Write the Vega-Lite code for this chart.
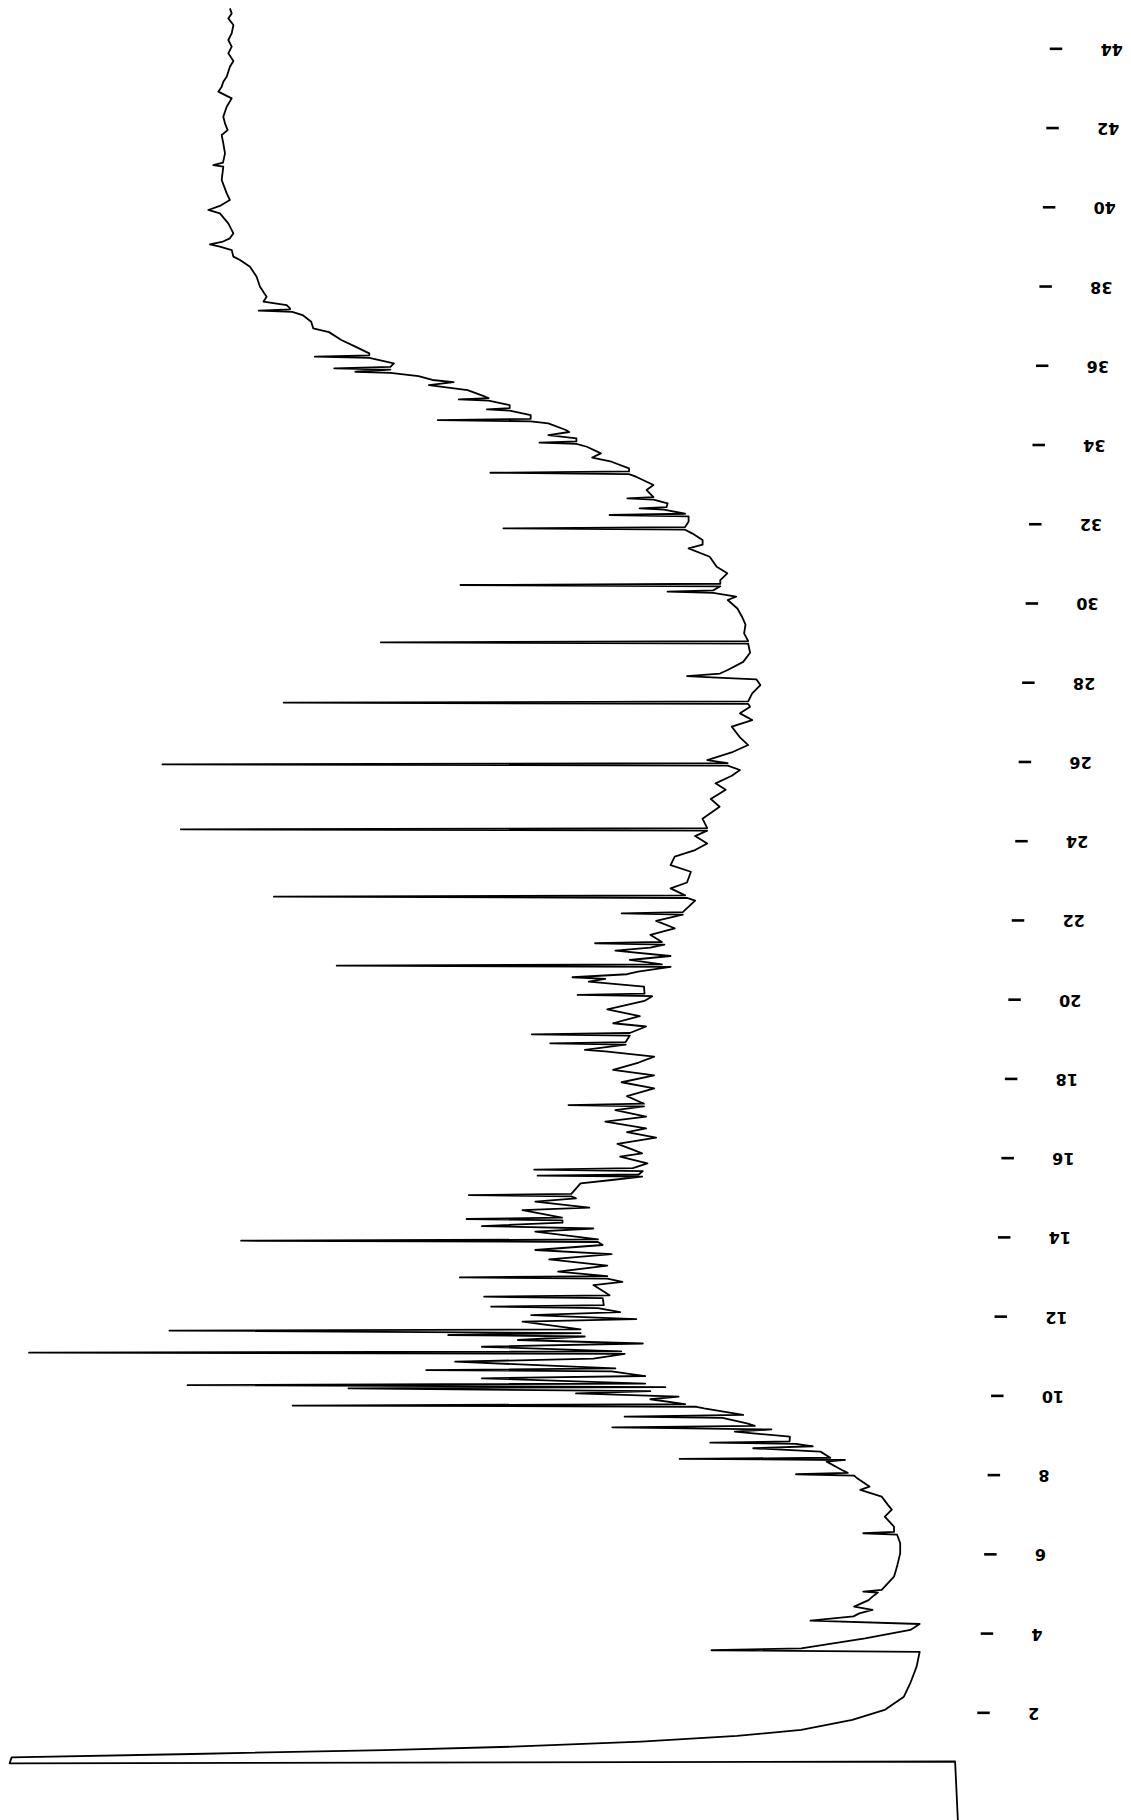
{
  "$schema": "https://vega.github.io/schema/vega-lite/v6.json",
  "width": 1131,
  "height": 1820,
  "padding": 0,
  "autosize": {"type": "none"},
  "background": "white",
  "config": {"view": {"stroke": null}},
  "datasets": {
    "trace": [
      {"t": -0.783, "v": 4.2}, {"t": 0.771, "v": 4.49}, {"t": 0.726, "v": 99.04}, {"t": 0.876, "v": 98.84},
      {"t": 0.961, "v": 80.77}, {"t": 1.061, "v": 61.56}, {"t": 1.146, "v": 48.72}, {"t": 1.272, "v": 35.9},
      {"t": 1.416, "v": 26.29}, {"t": 1.568, "v": 19.88}, {"t": 1.82, "v": 14.77}, {"t": 2.072, "v": 11.54},
      {"t": 2.407, "v": 9.61}, {"t": 2.747, "v": 8.97}, {"t": 3.166, "v": 8.34}, {"t": 3.541, "v": 8.03},
      {"t": 3.579, "v": 28.85}, {"t": 3.629, "v": 19.88}, {"t": 3.881, "v": 13.49}, {"t": 4.092, "v": 8.96},
      {"t": 4.242, "v": 8.03}, {"t": 4.327, "v": 18.95}, {"t": 4.435, "v": 14.65}, {"t": 4.511, "v": 14.07},
      {"t": 4.596, "v": 12.75}, {"t": 4.681, "v": 14.58}, {"t": 4.845, "v": 13.14}, {"t": 4.933, "v": 12.75},
      {"t": 5.035, "v": 12.21}, {"t": 5.058, "v": 13.67}, {"t": 5.102, "v": 11.83}, {"t": 5.436, "v": 10.6},
      {"t": 5.691, "v": 10.3}, {"t": 6.025, "v": 9.98}, {"t": 6.28, "v": 9.98}, {"t": 6.5, "v": 10.3},
      {"t": 6.532, "v": 13.67}, {"t": 6.565, "v": 10.59}, {"t": 6.699, "v": 10.6}, {"t": 6.951, "v": 11.52},
      {"t": 7.13, "v": 10.82}, {"t": 7.248, "v": 11.21}, {"t": 7.456, "v": 11.83}, {"t": 7.626, "v": 13.97},
      {"t": 7.711, "v": 13.05}, {"t": 7.919, "v": 14.28}, {"t": 7.986, "v": 14.58}, {"t": 8.022, "v": 20.4},
      {"t": 8.057, "v": 15.23}, {"t": 8.13, "v": 15.81}, {"t": 8.341, "v": 17.33}, {"t": 8.382, "v": 15.5},
      {"t": 8.409, "v": 32.04}, {"t": 8.438, "v": 16.97}, {"t": 8.593, "v": 17.95}, {"t": 8.678, "v": 24.68},
      {"t": 8.728, "v": 18.72}, {"t": 8.787, "v": 20.4}, {"t": 8.819, "v": 28.97}, {"t": 8.851, "v": 21.04},
      {"t": 8.971, "v": 21.01}, {"t": 9.097, "v": 26.52}, {"t": 9.153, "v": 22.85}, {"t": 9.206, "v": 38.77},
      {"t": 9.241, "v": 24.52}, {"t": 9.308, "v": 25.3}, {"t": 9.446, "v": 27.75}, {"t": 9.475, "v": 37.54},
      {"t": 9.519, "v": 25.68}, {"t": 9.686, "v": 29.59}, {"t": 9.725, "v": 30.35}, {"t": 9.756, "v": 70.74},
      {"t": 9.791, "v": 31.49}, {"t": 9.915, "v": 34.97}, {"t": 9.979, "v": 32.14}, {"t": 10.061, "v": 42.4},
      {"t": 10.12, "v": 34.97}, {"t": 10.19, "v": 65.16}, {"t": 10.223, "v": 33.46}, {"t": 10.272, "v": 81.25},
      {"t": 10.311, "v": 35.48}, {"t": 10.443, "v": 51.81}, {"t": 10.501, "v": 35.48}, {"t": 10.619, "v": 38.84},
      {"t": 10.651, "v": 57.38}, {"t": 10.692, "v": 38.46}, {"t": 10.862, "v": 54.48}, {"t": 10.941, "v": 40.66},
      {"t": 11.058, "v": 37.53}, {"t": 11.09, "v": 97.1}, {"t": 11.123, "v": 37.88}, {"t": 11.24, "v": 51.81},
      {"t": 11.322, "v": 35.72}, {"t": 11.41, "v": 48.21}, {"t": 11.498, "v": 41.52}, {"t": 11.536, "v": 55.18},
      {"t": 11.586, "v": 41.94}, {"t": 11.645, "v": 83.05}, {"t": 11.68, "v": 41.94}, {"t": 11.873, "v": 47.75},
      {"t": 11.938, "v": 36.37}, {"t": 12.04, "v": 46.88}, {"t": 12.114, "v": 37.99}, {"t": 12.216, "v": 40.2},
      {"t": 12.251, "v": 50.88}, {"t": 12.29, "v": 39.62}, {"t": 12.465, "v": 39.73}, {"t": 12.503, "v": 51.58},
      {"t": 12.538, "v": 39.04}, {"t": 12.796, "v": 40.66}, {"t": 12.876, "v": 37.76}, {"t": 12.958, "v": 39.27},
      {"t": 12.99, "v": 54.02}, {"t": 13.022, "v": 39.27}, {"t": 13.134, "v": 44.19}, {"t": 13.286, "v": 39.27},
      {"t": 13.444, "v": 45.08}, {"t": 13.579, "v": 38.84}, {"t": 13.682, "v": 46.47}, {"t": 13.808, "v": 39.73},
      {"t": 13.884, "v": 40.2}, {"t": 13.916, "v": 75.89}, {"t": 13.948, "v": 40.2}, {"t": 14.145, "v": 46.47},
      {"t": 14.224, "v": 40.66}, {"t": 14.286, "v": 51.81}, {"t": 14.371, "v": 43.75}, {"t": 14.432, "v": 43.75},
      {"t": 14.464, "v": 53.34}, {"t": 14.497, "v": 43.8}, {"t": 14.69, "v": 47.75}, {"t": 14.752, "v": 41.07},
      {"t": 14.901, "v": 46.47}, {"t": 14.986, "v": 42.4}, {"t": 15.036, "v": 42.87}, {"t": 15.068, "v": 53.12},
      {"t": 15.1, "v": 42.87}, {"t": 15.364, "v": 41.94}, {"t": 15.449, "v": 38.84}, {"t": 15.534, "v": 35.79},
      {"t": 15.557, "v": 46.24}, {"t": 15.587, "v": 36.13}, {"t": 15.675, "v": 35.72}, {"t": 15.713, "v": 46.58},
      {"t": 15.748, "v": 36.71}, {"t": 15.868, "v": 35.26}, {"t": 16.038, "v": 37.99}, {"t": 16.122, "v": 35.79},
      {"t": 16.204, "v": 36.6}, {"t": 16.362, "v": 38.25}, {"t": 16.518, "v": 34.39}, {"t": 16.655, "v": 37.3},
      {"t": 16.752, "v": 35.39}, {"t": 16.92, "v": 39.47}, {"t": 17.048, "v": 35.39}, {"t": 17.212, "v": 38.46},
      {"t": 17.309, "v": 35.6}, {"t": 17.341, "v": 43.15}, {"t": 17.374, "v": 35.6}, {"t": 17.564, "v": 37.3},
      {"t": 17.764, "v": 34.58}, {"t": 17.916, "v": 37.84}, {"t": 18.092, "v": 34.58}, {"t": 18.227, "v": 38.69},
      {"t": 18.414, "v": 36.13}, {"t": 18.561, "v": 34.58}, {"t": 18.693, "v": 39.47}, {"t": 18.731, "v": 41.51},
      {"t": 18.866, "v": 37.43}, {"t": 18.898, "v": 44.98}, {"t": 18.93, "v": 37.43}, {"t": 19.094, "v": 37.02},
      {"t": 19.126, "v": 46.82}, {"t": 19.159, "v": 37.02}, {"t": 19.323, "v": 35.39}, {"t": 19.405, "v": 38.69},
      {"t": 19.587, "v": 36.02}, {"t": 19.757, "v": 39.27}, {"t": 19.968, "v": 35.55}, {"t": 20.088, "v": 34.78},
      {"t": 20.12, "v": 42.24}, {"t": 20.153, "v": 35.55}, {"t": 20.329, "v": 35.6}, {"t": 20.455, "v": 41.13},
      {"t": 20.525, "v": 39.47}, {"t": 20.566, "v": 42.75}, {"t": 20.642, "v": 37.3}, {"t": 20.71, "v": 36.2},
      {"t": 20.827, "v": 32.94}, {"t": 20.859, "v": 66.33}, {"t": 20.891, "v": 33.81}, {"t": 21.002, "v": 37.02},
      {"t": 21.102, "v": 32.94}, {"t": 21.237, "v": 38.46}, {"t": 21.316, "v": 34.97}, {"t": 21.392, "v": 33.56},
      {"t": 21.424, "v": 40.49}, {"t": 21.456, "v": 33.81}, {"t": 21.638, "v": 34.97}, {"t": 21.802, "v": 32.53},
      {"t": 21.99, "v": 34.39}, {"t": 22.148, "v": 31.72}, {"t": 22.18, "v": 37.84}, {"t": 22.212, "v": 31.72},
      {"t": 22.5, "v": 30.49}, {"t": 22.567, "v": 31.3}, {"t": 22.599, "v": 72.61}, {"t": 22.632, "v": 31.49},
      {"t": 22.81, "v": 32.94}, {"t": 22.957, "v": 31.3}, {"t": 23.229, "v": 30.91}, {"t": 23.396, "v": 32.94},
      {"t": 23.61, "v": 32.53}, {"t": 23.777, "v": 30.49}, {"t": 23.944, "v": 29.28}, {"t": 24.129, "v": 30.49},
      {"t": 24.267, "v": 29.28}, {"t": 24.299, "v": 81.92}, {"t": 24.331, "v": 29.28}, {"t": 24.569, "v": 29.75},
      {"t": 24.87, "v": 28.04}, {"t": 25.067, "v": 28.93}, {"t": 25.301, "v": 27.43}, {"t": 25.46, "v": 28.45},
      {"t": 25.653, "v": 26.82}, {"t": 25.797, "v": 26.0}, {"t": 25.908, "v": 27.23}, {"t": 25.94, "v": 83.76},
      {"t": 25.973, "v": 27.23}, {"t": 26.049, "v": 29.28}, {"t": 26.24, "v": 26.84}, {"t": 26.427, "v": 25.18},
      {"t": 26.621, "v": 26.0}, {"t": 26.89, "v": 26.82}, {"t": 27.057, "v": 24.78}, {"t": 27.227, "v": 26.0},
      {"t": 27.394, "v": 24.99}, {"t": 27.465, "v": 25.18}, {"t": 27.497, "v": 71.63}, {"t": 27.529, "v": 25.18},
      {"t": 27.731, "v": 24.78}, {"t": 27.942, "v": 23.96}, {"t": 28.086, "v": 24.37}, {"t": 28.136, "v": 28.86},
      {"t": 28.168, "v": 31.3}, {"t": 28.232, "v": 28.0}, {"t": 28.32, "v": 27.23}, {"t": 28.526, "v": 25.68},
      {"t": 28.757, "v": 24.99}, {"t": 28.986, "v": 25.18}, {"t": 29.018, "v": 61.91}, {"t": 29.05, "v": 25.18},
      {"t": 29.247, "v": 25.59}, {"t": 29.464, "v": 25.45}, {"t": 29.666, "v": 25.8}, {"t": 29.874, "v": 26.26},
      {"t": 30.088, "v": 27.23}, {"t": 30.173, "v": 26.39}, {"t": 30.267, "v": 28.68}, {"t": 30.299, "v": 33.24},
      {"t": 30.331, "v": 28.68}, {"t": 30.434, "v": 27.97}, {"t": 30.466, "v": 53.95}, {"t": 30.498, "v": 27.97},
      {"t": 30.592, "v": 27.97}, {"t": 30.761, "v": 27.27}, {"t": 30.928, "v": 28.33}, {"t": 31.18, "v": 29.03},
      {"t": 31.391, "v": 31.14}, {"t": 31.485, "v": 29.74}, {"t": 31.603, "v": 29.74}, {"t": 31.77, "v": 30.79},
      {"t": 31.863, "v": 31.49}, {"t": 31.896, "v": 49.66}, {"t": 31.928, "v": 31.49}, {"t": 32.066, "v": 31.14},
      {"t": 32.201, "v": 31.14}, {"t": 32.233, "v": 39.04}, {"t": 32.265, "v": 31.49}, {"t": 32.368, "v": 33.59},
      {"t": 32.4, "v": 36.04}, {"t": 32.432, "v": 33.35}, {"t": 32.526, "v": 33.24}, {"t": 32.623, "v": 34.65},
      {"t": 32.655, "v": 37.27}, {"t": 32.687, "v": 34.65}, {"t": 32.863, "v": 35.34}, {"t": 32.989, "v": 34.65},
      {"t": 33.2, "v": 36.4}, {"t": 33.267, "v": 37.1}, {"t": 33.3, "v": 50.96}, {"t": 33.332, "v": 37.1},
      {"t": 33.411, "v": 37.1}, {"t": 33.578, "v": 38.85}, {"t": 33.684, "v": 40.78}, {"t": 33.789, "v": 39.91},
      {"t": 33.956, "v": 41.31}, {"t": 34.027, "v": 42.36}, {"t": 34.059, "v": 46.05}, {"t": 34.091, "v": 42.36},
      {"t": 34.167, "v": 42.36}, {"t": 34.252, "v": 45.17}, {"t": 34.328, "v": 43.07}, {"t": 34.378, "v": 43.41},
      {"t": 34.545, "v": 45.17}, {"t": 34.598, "v": 46.93}, {"t": 34.63, "v": 56.22}, {"t": 34.662, "v": 46.93},
      {"t": 34.756, "v": 46.93}, {"t": 34.867, "v": 49.03}, {"t": 34.9, "v": 51.31}, {"t": 34.932, "v": 49.03},
      {"t": 35.009, "v": 49.03}, {"t": 35.12, "v": 51.14}, {"t": 35.152, "v": 54.12}, {"t": 35.184, "v": 51.14},
      {"t": 35.219, "v": 51.48}, {"t": 35.386, "v": 53.24}, {"t": 35.512, "v": 57.11}, {"t": 35.589, "v": 54.64},
      {"t": 35.641, "v": 56.76}, {"t": 35.741, "v": 58.15}, {"t": 35.823, "v": 60.96}, {"t": 35.849, "v": 64.47},
      {"t": 35.902, "v": 60.96}, {"t": 35.935, "v": 66.58}, {"t": 35.97, "v": 60.96}, {"t": 36.06, "v": 60.61},
      {"t": 36.198, "v": 63.07}, {"t": 36.231, "v": 68.51}, {"t": 36.263, "v": 63.07}, {"t": 36.313, "v": 63.07},
      {"t": 36.483, "v": 64.47}, {"t": 36.65, "v": 65.87}, {"t": 36.849, "v": 67.1}, {"t": 36.946, "v": 68.68},
      {"t": 37.113, "v": 68.88}, {"t": 37.28, "v": 69.74}, {"t": 37.359, "v": 70.78}, {"t": 37.391, "v": 74.12},
      {"t": 37.424, "v": 71.0}, {"t": 37.45, "v": 71.0}, {"t": 37.532, "v": 71.33}, {"t": 37.617, "v": 73.66},
      {"t": 37.743, "v": 73.34}, {"t": 37.995, "v": 74.0}, {"t": 38.247, "v": 74.34}, {"t": 38.502, "v": 75.0},
      {"t": 38.669, "v": 76.0}, {"t": 38.754, "v": 76.66}, {"t": 38.921, "v": 76.83}, {"t": 39.006, "v": 78.01},
      {"t": 39.065, "v": 79.01}, {"t": 39.135, "v": 77.7}, {"t": 39.217, "v": 77.01}, {"t": 39.343, "v": 76.66},
      {"t": 39.595, "v": 77.17}, {"t": 39.847, "v": 78.01}, {"t": 39.932, "v": 79.17}, {"t": 40.044, "v": 77.94},
      {"t": 40.184, "v": 77.01}, {"t": 40.351, "v": 77.33}, {"t": 40.688, "v": 77.83}, {"t": 41.025, "v": 77.67},
      {"t": 41.066, "v": 78.67}, {"t": 41.128, "v": 77.7}, {"t": 41.362, "v": 77.5}, {"t": 41.614, "v": 77.67},
      {"t": 41.823, "v": 77.83}, {"t": 41.948, "v": 77.24}, {"t": 42.118, "v": 77.5}, {"t": 42.285, "v": 77.67},
      {"t": 42.538, "v": 77.33}, {"t": 42.749, "v": 76.83}, {"t": 42.919, "v": 78.17}, {"t": 43.045, "v": 77.83},
      {"t": 43.171, "v": 77.67}, {"t": 43.297, "v": 77.33}, {"t": 43.549, "v": 77.01}, {"t": 43.692, "v": 76.66},
      {"t": 43.886, "v": 77.17}, {"t": 44.053, "v": 76.83}, {"t": 44.223, "v": 77.17}, {"t": 44.39, "v": 76.83},
      {"t": 44.601, "v": 76.66}, {"t": 44.768, "v": 77.17}, {"t": 44.894, "v": 76.83}, {"t": 45.02, "v": 77.01}
    ],
    "ticks": [
      {"t": 2}, {"t": 4}, {"t": 6}, {"t": 8}, {"t": 10}, {"t": 12}, {"t": 14}, {"t": 16}, {"t": 18}, {"t": 20}, {"t": 22},
      {"t": 24}, {"t": 26}, {"t": 28}, {"t": 30}, {"t": 32}, {"t": 34}, {"t": 36}, {"t": 38}, {"t": 40}, {"t": 42}, {"t": 44}
    ]
  },
  "layer": [
    {
      "data": {"name": "trace"},
      "mark": {"type": "line", "color": "black", "strokeWidth": 1.8, "clip": true, "strokeJoin": "round"},
      "encoding": {
        "x": {"field": "v", "type": "quantitative", "scale": {"domain": [0, 100], "range": [1000, 0], "nice": false, "zero": false}, "axis": null},
        "y": {"field": "t", "type": "quantitative", "scale": {"domain": [-0.705, 45.232], "nice": false, "zero": false}, "axis": null},
        "order": {"value": null}
      }
    },
    {
      "data": {"name": "ticks"},
      "mark": {"type": "point", "shape": "stroke", "size": 156, "filled": false, "color": "black", "strokeWidth": 2.6, "opacity": 1},
      "encoding": {
        "x": {"field": "t", "type": "quantitative", "scale": {"domain": [2, 44], "range": [983.5, 1056], "nice": false, "zero": false}, "axis": null},
        "y": {"field": "t", "type": "quantitative", "axis": null}
      }
    },
    {
      "data": {"name": "ticks"},
      "mark": {"type": "text", "angle": 180, "align": "right", "baseline": "middle", "dx": -44.5, "font": "DejaVu Sans", "fontSize": 16, "fontWeight": "bold", "color": "black"},
      "encoding": {
        "x": {"field": "t", "type": "quantitative", "scale": {"domain": [2, 44], "range": [983.5, 1056], "nice": false, "zero": false}, "axis": null},
        "y": {"field": "t", "type": "quantitative", "axis": null},
        "text": {"field": "t", "type": "quantitative", "format": "d"}
      }
    }
  ],
  "resolve": {"scale": {"x": "independent"}}
}
